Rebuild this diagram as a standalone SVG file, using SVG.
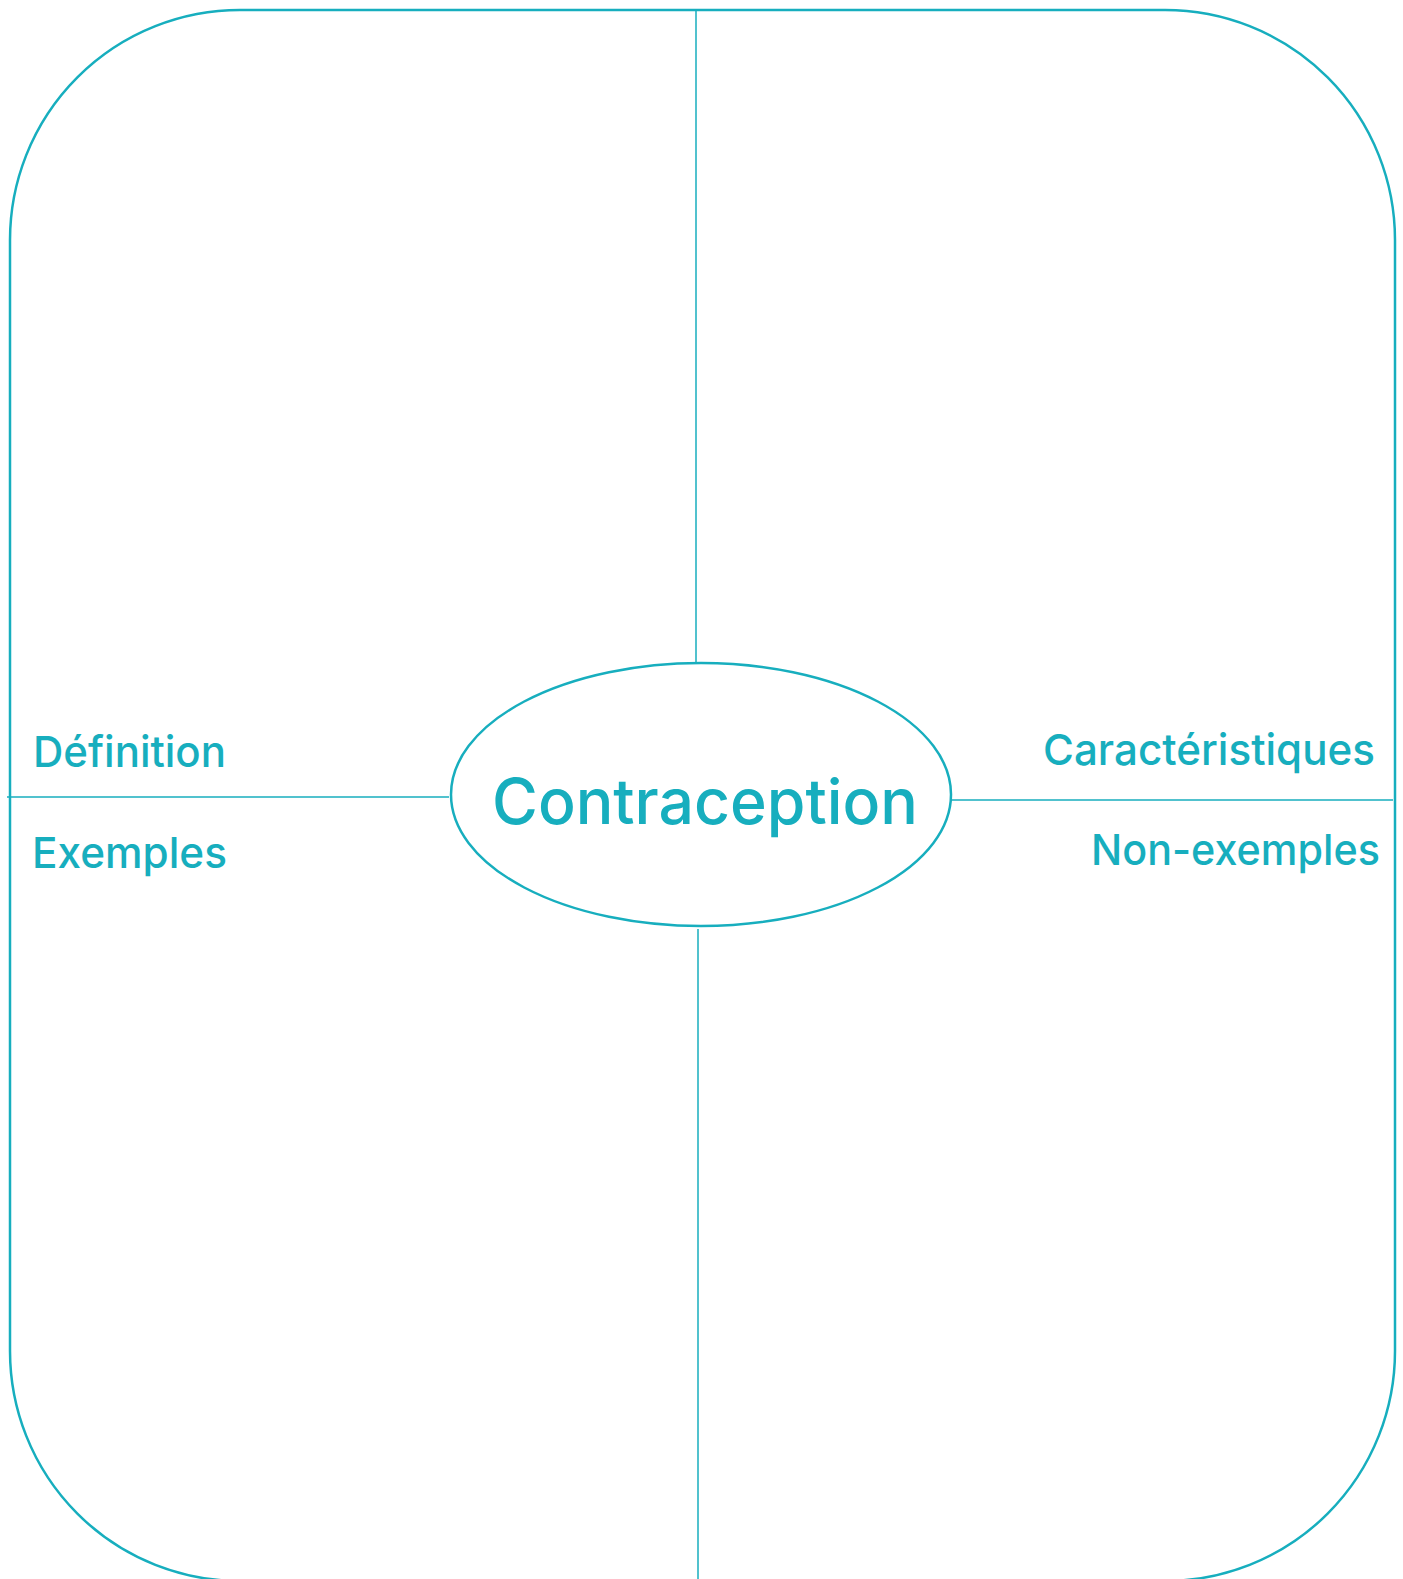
<svg xmlns="http://www.w3.org/2000/svg" width="1403" height="1579" viewBox="0 0 1403 1579">
<style>
.frame{fill:none;stroke:#17aebe;stroke-width:2.5}
.ln{stroke:#17aebe;stroke-width:1.5;fill:none}
.lbl{font-family:Inter,"Liberation Sans",Arial,sans-serif;font-weight:500;fill:#17aebe;font-size:43px}
.title{font-family:Inter,"Liberation Sans",Arial,sans-serif;font-weight:500;fill:#17aebe;font-size:63px}
</style>
<rect width="1403" height="1579" fill="#ffffff"/>
<g id="frame">
<rect class="frame" x="10" y="10" width="1385" height="1571" rx="230" ry="230"/>
</g>
<g id="connectors">
<line class="ln" x1="696" y1="10" x2="696" y2="663"/>
<line class="ln" x1="698" y1="929" x2="698" y2="1579"/>
<line class="ln" x1="7" y1="797" x2="449" y2="797"/>
<line class="ln" x1="951" y1="800" x2="1393" y2="800"/>
</g>
<g id="center">
<ellipse class="frame" cx="701" cy="794.5" rx="250" ry="131.5"/>
<text class="title" x="492" y="824" textLength="426" lengthAdjust="spacingAndGlyphs">Contraception</text>
</g>
<g id="definition">
<text class="lbl" x="33" y="767" textLength="193" lengthAdjust="spacingAndGlyphs">Définition</text>
</g>
<g id="exemples">
<text class="lbl" x="32" y="868" textLength="195" lengthAdjust="spacingAndGlyphs">Exemples</text>
</g>
<g id="caracteristiques">
<text class="lbl" x="1043" y="765" textLength="332" lengthAdjust="spacingAndGlyphs">Caractéristiques</text>
</g>
<g id="non-exemples">
<text class="lbl" x="1091" y="865" textLength="289" lengthAdjust="spacingAndGlyphs">Non-exemples</text>
</g>
</svg>
